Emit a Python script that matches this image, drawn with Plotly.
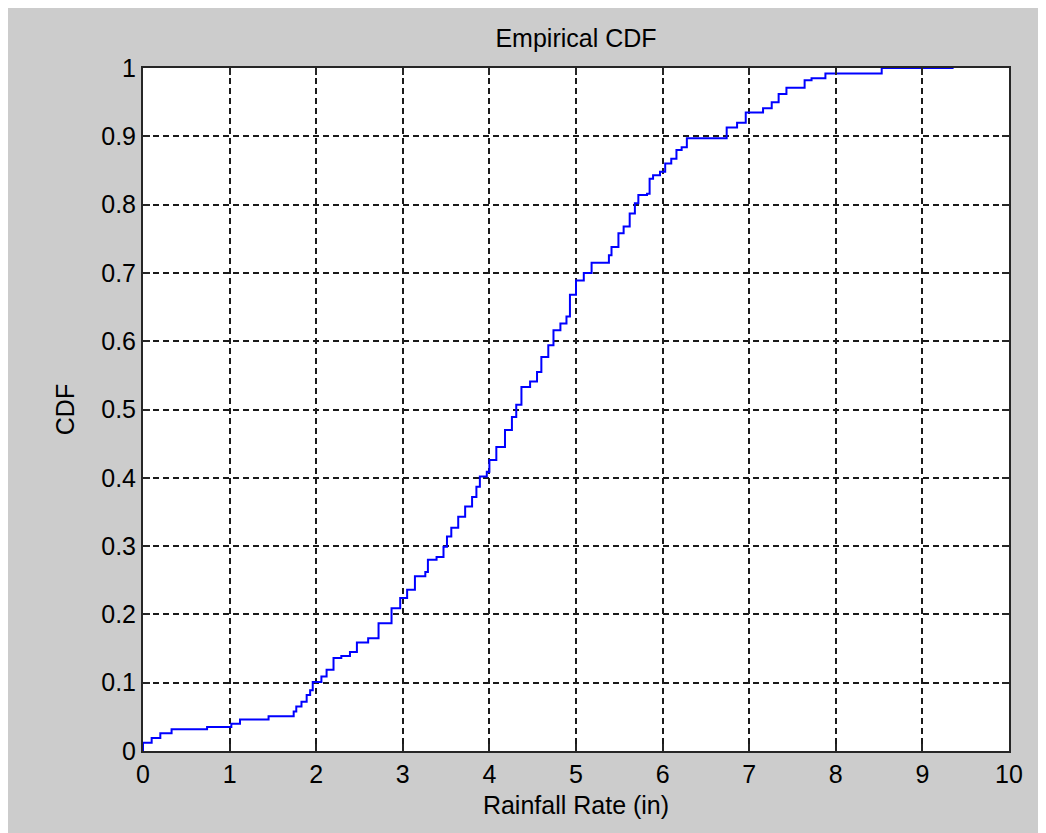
import plotly.graph_objects as go

# Empirical CDF step points (x = rainfall rate, y = CDF level after the step)
rain_x = [0.00, 0.00, 0.10, 0.20, 0.33, 0.74, 1.02, 1.12, 1.45, 1.74, 1.77, 1.83,
          1.89, 1.93, 1.96, 2.06, 2.12, 2.20, 2.29, 2.39, 2.47, 2.60, 2.72, 2.87,
          2.97, 3.05, 3.14, 3.26, 3.29, 3.39, 3.47, 3.51, 3.56, 3.64, 3.72, 3.80,
          3.85, 3.89, 3.97, 4.00, 4.08, 4.18, 4.26, 4.31, 4.37, 4.47, 4.55, 4.60,
          4.68, 4.74, 4.82, 4.89, 4.93, 5.00, 5.09, 5.18, 5.38, 5.41, 5.49, 5.55,
          5.62, 5.68, 5.72, 5.82, 5.85, 5.89, 5.97, 6.03, 6.10, 6.16, 6.22, 6.28,
          6.74, 6.86, 6.96, 7.16, 7.26, 7.34, 7.43, 7.64, 7.72, 7.88, 8.53, 9.36]
cdf_y = [0.000, 0.012, 0.019, 0.026, 0.032, 0.035, 0.040, 0.046, 0.051, 0.058, 0.065, 0.072,
         0.082, 0.089, 0.101, 0.109, 0.119, 0.136, 0.139, 0.145, 0.159, 0.165, 0.187, 0.209,
         0.224, 0.236, 0.256, 0.262, 0.280, 0.284, 0.299, 0.314, 0.327, 0.343, 0.358, 0.372,
         0.387, 0.402, 0.409, 0.426, 0.445, 0.470, 0.489, 0.507, 0.533, 0.541, 0.555, 0.577,
         0.594, 0.616, 0.626, 0.636, 0.668, 0.689, 0.700, 0.715, 0.726, 0.738, 0.758, 0.768,
         0.787, 0.802, 0.814, 0.816, 0.838, 0.843, 0.848, 0.860, 0.867, 0.880, 0.884, 0.897,
         0.913, 0.920, 0.935, 0.941, 0.950, 0.962, 0.971, 0.982, 0.985, 0.992, 1.000, 1.000]

x_ticks = [0, 1, 2, 3, 4, 5, 6, 7, 8, 9, 10]
y_ticks = [0, 0.1, 0.2, 0.3, 0.4, 0.5, 0.6, 0.7, 0.8, 0.9, 1]
y_tick_labels = ["0", "0.1", "0.2", "0.3", "0.4", "0.5", "0.6", "0.7", "0.8", "0.9", "1"]

title_text = "Empirical CDF"
x_title = "Rainfall Rate (in)"
y_title = "CDF"

FONT = "Liberation Sans, Arial, sans-serif"
W, H = 1038, 825
L, R, T, B = 135, 37, 60, 82

fig = go.Figure()
fig.add_trace(go.Scatter(
    x=rain_x, y=cdf_y, mode="lines",
    line=dict(color="#0000ff", width=2, shape="hv"),
    showlegend=False,
))

axis_common = dict(
    showgrid=True, gridcolor="#1a1a1a", gridwidth=2, griddash="6px,4px",
    showline=True, linecolor="#262626", linewidth=2, mirror="ticks",
    ticks="inside", ticklen=7, tickwidth=1.5, tickcolor="#262626",
    zeroline=False,
    tickfont=dict(family=FONT, size=25, color="#000000"),
)

fig.update_xaxes(range=[0, 10], tickmode="array", tickvals=x_ticks,
                 title=dict(text=x_title, font=dict(family=FONT, size=25, color="#000000"), standoff=9),
                 **axis_common)
fig.update_yaxes(range=[0, 1], tickmode="array", tickvals=y_ticks, ticktext=y_tick_labels,
                 title=dict(text=y_title, font=dict(family=FONT, size=25, color="#000000"), standoff=19),
                 **axis_common)

fig.update_layout(
    width=W, height=H,
    margin=dict(l=L, r=R, t=T, b=B, pad=0),
    paper_bgcolor="#cccccc", plot_bgcolor="#ffffff",
    title=dict(text=title_text, x=0.5, xref="paper", y=1, yref="paper",
               yanchor="bottom", pad=dict(b=21),
               font=dict(family=FONT, size=25, color="#000000")),
    font=dict(family=FONT, size=25, color="#000000"),
)

fig.write_html("out.html")
